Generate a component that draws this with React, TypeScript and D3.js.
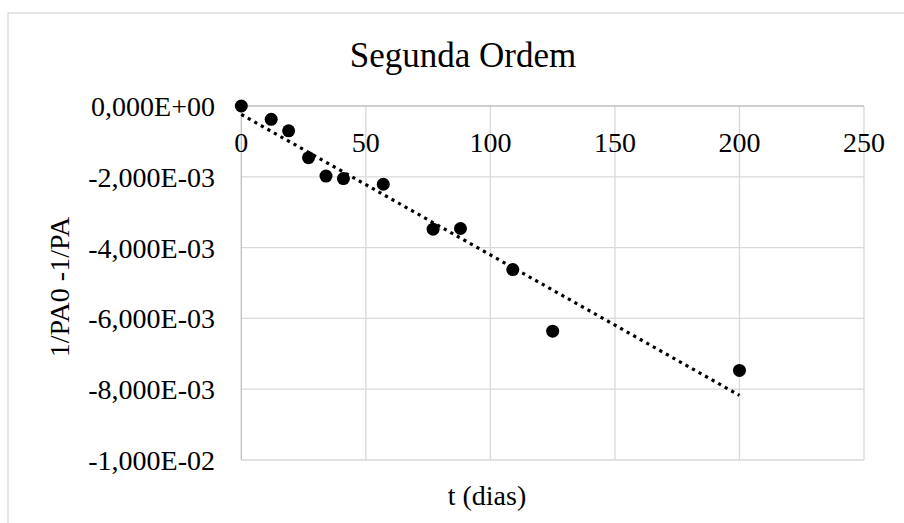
import React from 'react';
import * as d3 from 'd3';

// t (dias)
const days = [0, 12, 19, 27, 34, 41, 57, 77, 88, 109, 125, 200];
// 1/PA0 - 1/PA
const values = [0, -0.000376, -0.0007, -0.00146, -0.00198, -0.00205, -0.00221, -0.00348, -0.00346, -0.00462, -0.00636, -0.00747];

const xTicks = [0, 50, 100, 150, 200, 250];
const yTicks = [0, -0.002, -0.004, -0.006, -0.008, -0.01];
const yTickLabels = ['0,000E+00', '-2,000E-03', '-4,000E-03', '-6,000E-03', '-8,000E-03', '-1,000E-02'];

const width = 904;
const height = 523;
const font = "'Liberation Serif', 'Times New Roman', Times, serif";

export default function App() {
  const x = d3.scaleLinear().domain([0, 250]).range([241.3, 864]);
  const y = d3.scaleLinear().domain([-0.01, 0]).range([460, 106]);

  // linear trendline (least squares), like Excel's
  const mt = d3.mean(days)!;
  const mv = d3.mean(values)!;
  const sxy = d3.sum(days, (t, i) => (t - mt) * (values[i] - mv));
  const sxx = d3.sum(days, t => (t - mt) * (t - mt));
  const slope = sxy / sxx;
  const intercept = mv - slope * mt;
  const trend = d3.line<number>()
    .x(t => x(t))
    .y(t => y(intercept + slope * t))(d3.extent(days) as [number, number]);

  const txt = { fontFamily: font, fill: '#000' };

  return (
    <svg width={width} height={height} style={{ position: 'absolute', left: 0, top: 0, background: '#fff' }}>
      <rect x={8} y={13} width={width + 40} height={height + 40} fill="#fff" stroke="#d9d9d9" strokeWidth={1.3} />

      {/* gridlines */}
      {xTicks.filter(t => t !== 0).map(t => (
        <line key={'gx' + t} x1={x(t)} x2={x(t)} y1={y(0)} y2={y(-0.01)} stroke="#d9d9d9" strokeWidth={1.3} />
      ))}
      {yTicks.filter(v => v !== 0).map(v => (
        <line key={'gy' + v} x1={x(0)} x2={x(250)} y1={y(v)} y2={y(v)} stroke="#d9d9d9" strokeWidth={1.3} />
      ))}

      {/* axis lines */}
      <line x1={x(0)} x2={x(0)} y1={y(0)} y2={y(-0.01)} stroke="#bfbfbf" strokeWidth={1.3} />
      <line x1={x(0)} x2={x(250)} y1={y(0)} y2={y(0)} stroke="#bfbfbf" strokeWidth={1.3} />

      {/* tick labels */}
      {xTicks.map(t => (
        <text key={'tx' + t} x={x(t)} y={y(0) + 46} textAnchor="middle" style={{ ...txt, fontSize: 28 }}>{t}</text>
      ))}
      {yTicks.map((v, i) => (
        <text key={'ty' + v} x={215} y={y(v) + 10} textAnchor="end" style={{ ...txt, fontSize: 28 }}>{yTickLabels[i]}</text>
      ))}

      {/* trendline */}
      <path d={trend ?? ''} fill="none" stroke="#000" strokeWidth={3.2} strokeDasharray="3.2 4.3" />

      {/* points */}
      {days.map((t, i) => (
        <circle key={'p' + i} cx={x(t)} cy={y(values[i])} r={6.5} fill="#000" />
      ))}

      {/* titles */}
      <text x={463} y={67} textAnchor="middle" style={{ ...txt, fontSize: 35 }}>Segunda Ordem</text>
      <text x={487} y={505} textAnchor="middle" style={{ ...txt, fontSize: 28 }}>t (dias)</text>
      <text transform="translate(69,287) rotate(-90)" textAnchor="middle" style={{ ...txt, fontSize: 28 }}>1/PA0 -1/PA</text>
    </svg>
  );
}
